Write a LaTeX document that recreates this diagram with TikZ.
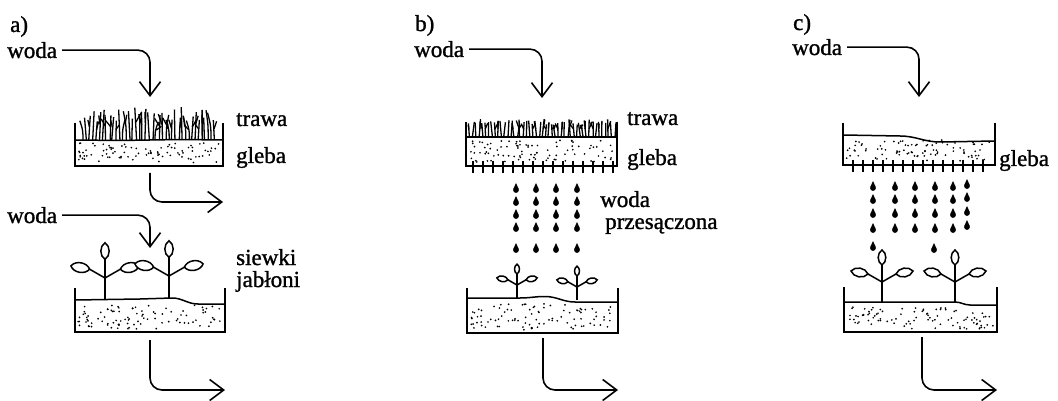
\documentclass[tikz,border=0pt]{standalone}
\usepackage{fontspec}
\setmainfont{Liberation Serif}
\newfontfamily\labelfont{Liberation Serif}[BoldFont=Liberation Serif, BoldFeatures={FakeBold=1.2}]
\usetikzlibrary{arrows.meta}

% soil stipple inside a rectangle: x1 x2 y1 y2 count
\newcommand\soildots[5]{%
  \foreach \k in {1,...,#5}{\fill ({#1+rnd*(#2-#1)},{#3+rnd*(#4-#3)}) circle (0.95pt);}}

% open tray: left x, right x, wall top, bottom
\newcommand\traywalls[4]{%
  \draw[wall] (#1,#3) -- (#1,#4);
  \draw[wall] (#2,#3) -- (#2,#4);
  \draw[traybottom] (#1,#4) -- (#2,#4);}

\begin{document}
\begin{tikzpicture}[x=1pt,y=-1pt,
  lbl/.style={font=\labelfont\bfseries\fontsize{23}{25}\selectfont, inner sep=0pt, anchor=base west},
  flow/.style={line width=1.6pt, rounded corners=12pt,
    -{Straight Barb[length=14pt,width=21pt,line width=1.6pt]}},
  wall/.style={line width=1.9pt},
  traybottom/.style={line width=2.8pt, line cap=rect},
  soiltop/.style={line width=1.5pt},
  grass/.style={line width=1.3pt},
  tick/.style={line width=1.5pt},
  plant/.style={line width=1.5pt},
  waterdrop/.pic={
    \fill (0,0) circle (2.9pt);
    \fill (-2.7,-1) .. controls (-1.6,-3.4) .. (0,-7) .. controls (1.6,-3.4) .. (2.7,-1) -- cycle;},
  seedling/.pic={
    \draw[plant] (0,0) -- (0,-37);
    \draw[plant] (0,-20) -- (-14,-28);
    \draw[plant] (0,-20) -- (14,-28);
    \draw[plant,fill=white] (0,-37) to[bend left=60] (0,-52) to[bend left=60] cycle;
    \draw[plant,fill=white] (-14,-28) to[bend left=60] (-31,-31) to[bend left=60] cycle;
    \draw[plant,fill=white] (14,-28) to[bend right=60] (31,-31) to[bend right=60] cycle;}
]
\fill[white] (0,0) rectangle (1058,401);
\useasboundingbox (0,0) rectangle (1058,401);

%% ---------------- panel a ----------------
\node[lbl] (la) at (10,32) {a)};
\node[lbl] (wa1) at (7,58) {woda};
\node[lbl] (trA) at (236,126) {trawa};
\node[lbl] (glA) at (236,163) {gleba};
\coordinate (a1in) at (150,97);
\draw[flow] ([xshift=5pt]wa1.east) -| (a1in);

% grass tray
\pgfmathsetseed{11}
\soildots{78}{220}{143}{163}{90}
\traywalls{75}{223}{123}{166}
\draw[soiltop] (75,140) -- (120,140.5) -- (180,139.5) -- (223,140);
\pgfmathsetseed{5}
\foreach \i in {0,...,40}{
  \pgfmathsetmacro\grx{82+\i*3.3+rnd*2}
  \pgfmathsetmacro\grt{107+rnd*15}
  \pgfmathsetmacro\grd{(rnd-0.5)*7}
  \draw[grass] (\grx,140) .. controls (\grx,{(140+\grt)/2}) .. (\grx+\grd,\grt);
  \pgfmathsetmacro\grf{rnd}
  \ifdim\grf pt>0.4pt
    \draw[grass] (\grx+\grd*0.4,{\grt+(140-\grt)*0.45}) -- ({\grx+\grd*0.4+(rnd-0.5)*12},{\grt+rnd*5});
  \fi
}
\coordinate (a1out) at (150,173);
\coordinate (a1end) at (223,202);
\draw[flow] (a1out) |- (a1end);

% seedling tray
\node[lbl] (wa2) at (7,223) {woda};
\node[lbl] (swA) at (236,265) {siewki};
\node[lbl] (jbA) at (236,287) {jabłoni};
\coordinate (a2in) at (150,248);
\draw[flow] ([xshift=5pt]wa2.east) -| (a2in);
\pgfmathsetseed{23}
\soildots{78}{222}{305}{329}{95}
\traywalls{75}{225}{288}{332}
\draw[soiltop] (75,300) -- (140,299) -- (172,298) to[out=0,in=180] (198,304) -- (225,304);
\pic[scale=1.1] at (105,300) {seedling};
\pic[scale=1.1] at (169,298) {seedling};
\coordinate (a2out) at (150,340);
\coordinate (a2end) at (225,390);
\draw[flow] (a2out) |- (a2end);

%% ---------------- panel b ----------------
\node[lbl] (lb) at (415,31) {b)};
\node[lbl] (wb1) at (414,57) {woda};
\node[lbl] (trB) at (627,125) {trawa};
\node[lbl] (glB) at (627,165) {gleba};
\coordinate (b1in) at (542,98);
\draw[flow] ([xshift=5pt]wb1.east) -| (b1in);
\pgfmathsetseed{31}
\soildots{469}{614}{140}{162}{90}
\traywalls{466}{617}{122}{166}
\draw[soiltop] (466,137) -- (617,137);
\pgfmathsetseed{9}
\foreach \i in {0,...,46}{
  \pgfmathsetmacro\grx{469+\i*3.15+rnd*1.5}
  \pgfmathsetmacro\grt{119+rnd*6}
  \pgfmathsetmacro\grd{(rnd-0.5)*4}
  \draw[grass] (\grx,137) -- (\grx+\grd,\grt);
  \pgfmathsetmacro\grf{rnd}
  \ifdim\grf pt>0.4pt
    \draw[grass] (\grx+\grd*0.5,129) -- ({\grx+\grd*0.5+(rnd-0.5)*8},{\grt+rnd*2});
  \fi
}
\foreach \x in {473,483,...,613} \draw[tick] (\x,161) -- (\x,173);

% percolated water
\foreach \x in {516,536,556,577}
  \foreach \y in {190,203,216,229,250}
    \pic at (\x,\y) {waterdrop};
\node[lbl] (wb2) at (600,207) {woda};
\node[lbl] (prB) at (605,229) {przesączona};

\pgfmathsetseed{41}
\soildots{470}{615}{303}{330}{95}
\traywalls{467}{618}{288}{333}
\draw[soiltop] (467,298) -- (520,298) to[out=0,in=180] (545,296.5) to[out=0,in=180] (575,302) -- (618,302);
\pic[scale=0.65] at (517,298) {seedling};
\pic[scale=0.65] at (577,300) {seedling};
\coordinate (b2out) at (543,338);
\coordinate (b2end) at (618,390);
\draw[flow] (b2out) |- (b2end);

%% ---------------- panel c ----------------
\node[lbl] (lc) at (793,30) {c)};
\node[lbl] (wc1) at (792,55) {woda};
\node[lbl] (glC) at (999,166) {gleba};
\coordinate (c1in) at (919,97);
\draw[flow] ([xshift=5pt]wc1.east) -| (c1in);
\pgfmathsetseed{53}
\soildots{846}{992}{140}{161}{90}
\traywalls{843}{995}{123}{165}
\draw[soiltop] (843,135) -- (900,136) to[out=0,in=180] (940,142) -- (995,141);
\foreach \x in {853,863,...,987} \draw[tick] (\x,160) -- (\x,172);

% percolated water
\foreach \x in {873,895,915,935,953}
  \foreach \y in {188,201,215,230}
    \pic at (\x,\y) {waterdrop};
\foreach \y in {186,199,213,227} \pic at (967,\y) {waterdrop};
\pic at (873,248) {waterdrop};
\pic at (934,250) {waterdrop};

\pgfmathsetseed{67}
\soildots{847}{994}{307}{329}{95}
\traywalls{844}{997}{287}{332}
\draw[soiltop] (844,302) -- (955,302) to[out=0,in=180] (970,305) -- (997,305);
\pic at (882,302) {seedling};
\pic at (955,302) {seedling};
\coordinate (c2out) at (922,337);
\coordinate (c2end) at (997,390);
\draw[flow] (c2out) |- (c2end);
\end{tikzpicture}
\end{document}
